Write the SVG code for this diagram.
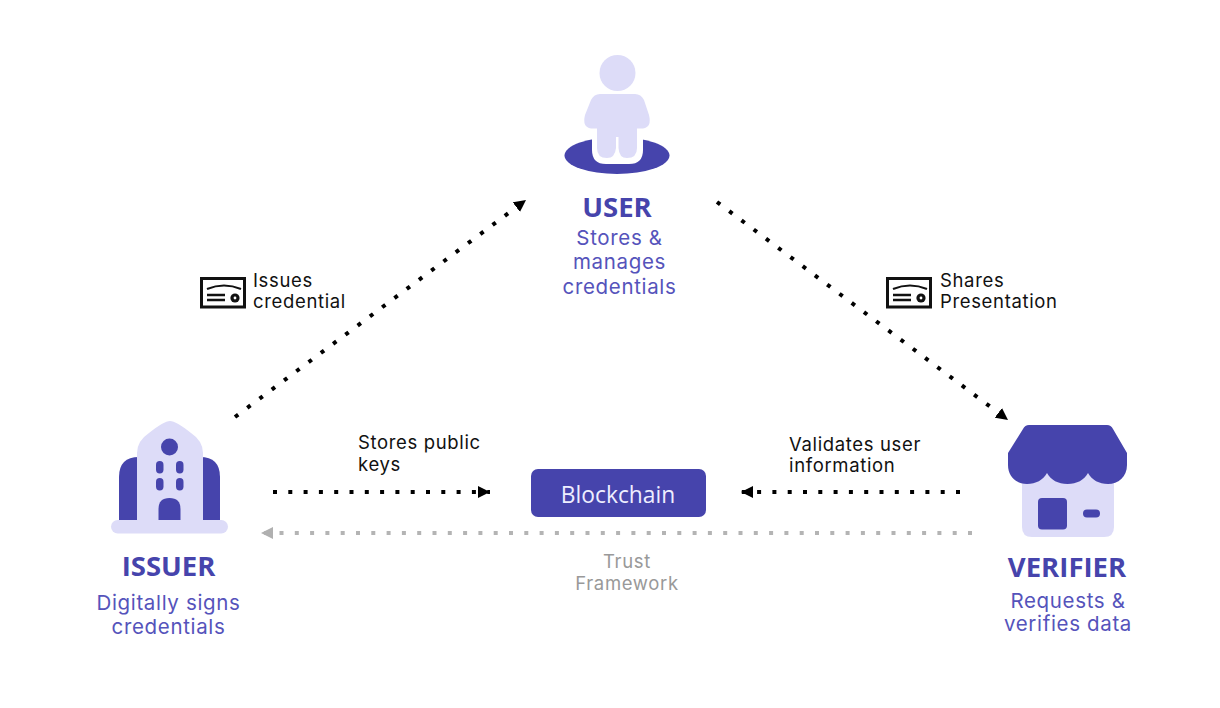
<svg xmlns="http://www.w3.org/2000/svg" width="1220" height="708" viewBox="0 0 1220 708">
<style>
.dk{fill:#4644ac}.lt{fill:#dddcf8}
.title{font-family:"Open Sans","Noto Sans",sans-serif;font-weight:700;font-size:27.5px;fill:#4644ac;text-anchor:middle}
.sub{font-family:"Inter","Noto Sans",sans-serif;font-size:20.5px;letter-spacing:.65px;fill:#5553bb;text-anchor:middle}
.lbl{font-family:"Inter","Noto Sans",sans-serif;font-size:18.5px;letter-spacing:.65px;fill:#111}
.gry{font-family:"Inter","Noto Sans",sans-serif;font-size:18.5px;letter-spacing:.65px;fill:#999;text-anchor:middle}
.dot{fill:none;stroke:#000;stroke-width:4;stroke-dasharray:4 11.3}
.gdot{fill:none;stroke:#b4b4b4;stroke-width:4;stroke-dasharray:4 11.3}
.cert{fill:none;stroke:#111;stroke-width:3}
</style>
<defs>
<marker id="ah" markerUnits="userSpaceOnUse" markerWidth="13" markerHeight="12" refX="12" refY="6" orient="auto"><path d="M0 0L12 6L0 12Z" fill="#000"/></marker>
<marker id="ag" markerUnits="userSpaceOnUse" markerWidth="13" markerHeight="12" refX="12" refY="6" orient="auto"><path d="M0 0L12 6L0 12Z" fill="#b0b0b0"/></marker>
<g id="cert-icon">
<rect class="cert" x="1.500" y="1.500" width="43" height="28.500"/>
<path d="M7 12Q24 5 41 12" fill="none" stroke="#111" stroke-width="2.200"/>
<path d="M7 18H25M7 23H25" fill="none" stroke="#111" stroke-width="2.400"/>
<circle cx="35" cy="21" r="4.600" fill="#111"/>
<circle cx="35" cy="21" r="1.400" fill="#fff"/>
</g>
</defs>
<g id="connectors">
<path class="dot" d="M235 417L526 200" marker-end="url(#ah)"/>
<path class="dot" d="M717 202L1008 420" marker-end="url(#ah)"/>
<path class="dot" d="M273 492H490" marker-end="url(#ah)"/>
<path class="dot" d="M960 492H741" marker-end="url(#ah)"/>
<path class="gdot" d="M972 533H261" marker-end="url(#ag)"/>
</g>
<g id="user">
<ellipse class="dk" cx="617" cy="155.500" rx="52.500" ry="18.500"/>
<path d="M592 130H643V150Q643 164 629 164H606Q592 164 592 150Z" fill="#fff"/>
<circle class="lt" cx="617.500" cy="73" r="18"/>
<path class="lt" d="M600 94H635Q641 94 644 100L649 115Q652 127 643 128.500H637V148Q637 158 627 158Q619 158 618.500 148V137H616V148Q615 158 607 158Q597 158 597 148V128.500H591Q582 127 585 115L591 100Q594 94 600 94Z"/>
<text class="title" x="617" y="217">USER</text>
<text class="sub" x="619.500" y="245">Stores &amp;</text>
<text class="sub" x="619.500" y="269">manages</text>
<text class="sub" x="619.500" y="294">credentials</text>
</g>
<g id="issuer">
<path class="dk" d="M119 520V477Q119 457 139 457H200Q220 457 220 477V520Z"/>
<path class="lt" d="M137 520V453Q137 441 149 433Q164 421 170 421Q176 421 191 433Q203 441 203 453V520Z"/>
<rect class="lt" x="111" y="520" width="117" height="13.500" rx="6.700"/>
<circle class="dk" cx="169.500" cy="447" r="8.500"/>
<rect class="dk" x="156" y="461" width="7.500" height="12.500" rx="3.700"/>
<rect class="dk" x="176" y="461" width="7.500" height="12.500" rx="3.700"/>
<rect class="dk" x="156" y="478" width="7.500" height="12.500" rx="3.700"/>
<rect class="dk" x="176" y="478" width="7.500" height="12.500" rx="3.700"/>
<path class="dk" d="M158.500 520V509Q158.500 498 169.500 498Q180.500 498 180.500 509V520Z"/>
<text class="title" x="168.500" y="576">ISSUER</text>
<text class="sub" x="168.500" y="610">Digitally signs</text>
<text class="sub" x="168.500" y="634">credentials</text>
</g>
<g id="verifier">
<path class="lt" d="M1022 470H1114V527Q1114 537 1104 537H1032Q1022 537 1022 527Z"/>
<path class="dk" d="M1023 429Q1025 425 1029 425H1107Q1111 425 1113 429L1127 453V465C1127 477 1118 484 1108 484C1099 484 1092 480 1088 473C1084 480 1077 484 1067.500 484C1058 484 1051 480 1047 473C1043 480 1036 484 1027 484C1017 484 1008 477 1008 465V453Z"/>
<rect class="dk" x="1038" y="498" width="29" height="31.500" rx="4"/>
<rect class="dk" x="1083" y="509.500" width="17" height="8" rx="4"/>
<text class="title" x="1067" y="577">VERIFIER</text>
<text class="sub" x="1068" y="608">Requests &amp;</text>
<text class="sub" x="1068" y="631">verifies data</text>
</g>
<g id="blockchain">
<rect class="dk" x="531" y="469" width="175" height="48" rx="7"/>
<text x="618" y="503" font-family="Open Sans,Noto Sans,sans-serif" font-size="22.800" fill="#eeeeff" text-anchor="middle">Blockchain</text>
</g>
<g id="issues-label">
<use href="#cert-icon" x="200" y="277"/>
<text class="lbl" x="253" y="287">Issues</text>
<text class="lbl" x="253" y="308">credential</text>
</g>
<g id="shares-label">
<use href="#cert-icon" x="886" y="277"/>
<text class="lbl" x="940" y="287">Shares</text>
<text class="lbl" x="940" y="308">Presentation</text>
</g>
<g id="stores-label">
<text class="lbl" x="358" y="449">Stores public</text>
<text class="lbl" x="358" y="471">keys</text>
</g>
<g id="validates-label">
<text class="lbl" x="789" y="451">Validates user</text>
<text class="lbl" x="789" y="472">information</text>
</g>
<g id="trust-label">
<text class="gry" x="627" y="568">Trust</text>
<text class="gry" x="627" y="590">Framework</text>
</g>
</svg>
